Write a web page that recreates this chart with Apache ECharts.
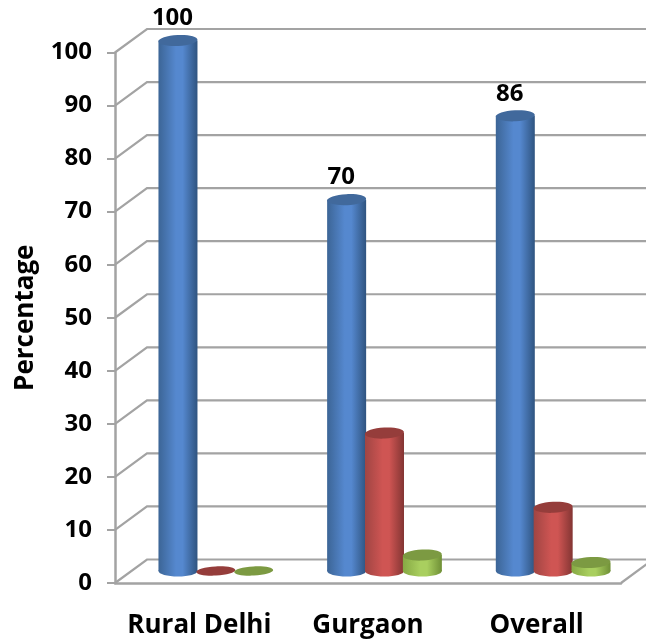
<!DOCTYPE html>
<html>
<head>
<meta charset="utf-8">
<style>html,body{margin:0;padding:0;background:#fff}#c{width:646px;height:641px}</style>
<script src="https://cdn.jsdelivr.net/npm/echarts@6/dist/echarts.min.js"></script>
</head>
<body>
<div id="c"></div>
<script>
const categories = ['Rural Delhi', 'Gurgaon', 'Overall'];
const tickValues = [0, 10, 20, 30, 40, 50, 60, 70, 80, 90, 100];
const seriesA = [100, 70, 85.8];
const seriesB = [0, 26, 12];
const seriesC = [0, 3, 1.6];

const FONT = '"Open Sans"';
const DEPTH_X = 32, DEPTH_Y = 23.5;        // back wall offset
const BAR_DX = 16.5, BAR_DY = 12;          // cylinder plane offset
const RX = 19.5, RY = 5.5;
const BAR_STEP = 0.2245;                   // fraction of a band

const palettes = [
  {edgeL:'#3c6596', mid:'#5588cf', edgeR:'#2f5480', top:'#41699c'},
  {edgeL:'#a04543', mid:'#cf5553', edgeR:'#833533', top:'#953d3b'},
  {edgeL:'#86a844', mid:'#a9cf5f', edgeR:'#6f8f36', top:'#7c9a42'}
];

const chart = echarts.init(document.getElementById('c'));

function cylinder(seriesIndex, showLabel) {
  const pal = palettes[seriesIndex];
  return function (params, api) {
    const catIdx = api.value(0), val = api.value(1);
    const band = api.size([1, 0])[0];
    const base = api.coord([catIdx, 0]);
    const top = api.coord([catIdx, val]);
    const cx = base[0] + BAR_DX + (seriesIndex - 1) * BAR_STEP * band;
    const yb = base[1] - BAR_DY, yt = top[1] - BAR_DY;
    const grad = new echarts.graphic.LinearGradient(0, 0, 1, 0, [
      {offset: 0, color: pal.edgeL},
      {offset: 0.45, color: pal.mid},
      {offset: 0.62, color: pal.mid},
      {offset: 1, color: pal.edgeR}
    ]);
    const children = [];
    if (val > 0) {
      children.push({type: 'ellipse', shape: {cx: cx, cy: yb, rx: RX, ry: RY}, style: {fill: grad}});
      children.push({type: 'rect', shape: {x: cx - RX, y: yt, width: RX * 2, height: yb - yt}, style: {fill: grad}});
    }
    children.push({
      type: 'ellipse',
      shape: {cx: cx, cy: yt, rx: RX, ry: val > 0 ? RY : 4.6},
      rotation: 0.05, originX: cx, originY: yt,
      style: {fill: pal.top}
    });
    if (showLabel) {
      children.push({
        type: 'text',
        style: {
          x: cx - 5.5, y: yt - 22,
          text: Math.round(val).toString(),
          fill: '#000',
          font: 'bold 24px ' + FONT,
          textAlign: 'center', textVerticalAlign: 'middle'
        }
      });
    }
    return {type: 'group', children: children};
  };
}

function wallRender(params, api) {
  const v = api.value(1);
  const band = api.size([1, 0])[0];
  const first = api.coord([0, v]);
  const leftX = first[0] - band / 2;
  const rightX = leftX + band * categories.length;
  return {
    type: 'polyline',
    shape: {points: [[leftX, first[1]], [leftX + DEPTH_X, first[1] - DEPTH_Y], [rightX + DEPTH_X, first[1] - DEPTH_Y]]},
    style: {stroke: '#a3a3a3', lineWidth: 2.2, fill: null}
  };
}

function floorEdge(params, api) {
  const band = api.size([1, 0])[0];
  const last = api.coord([categories.length - 1, 0]);
  const r = last[0] + band / 2;
  return {
    type: 'line',
    shape: {x1: r, y1: last[1], x2: r + DEPTH_X, y2: last[1] - DEPTH_Y},
    style: {stroke: '#a3a3a3', lineWidth: 2.2}
  };
}

const toData = arr => arr.map((v, i) => [i, v]);

chart.setOption({
  animation: false,
  backgroundColor: '#fff',
  grid: {left: 115, right: 25, top: 52.5, bottom: 58, containLabel: false, outerBoundsMode: 'none'},
  xAxis: {
    type: 'category',
    data: categories,
    axisLine: {show: true, lineStyle: {color: '#a3a3a3', width: 2.5}},
    axisTick: {show: false},
    axisLabel: {color: '#000', fontFamily: FONT, fontWeight: 'bold', fontSize: 26, margin: 30, interval: 0}
  },
  yAxis: {
    type: 'value', min: 0, max: 100, interval: 10,
    name: 'Percentage',
    nameLocation: 'middle',
    nameRotate: 90,
    nameGap: 76,
    nameTextStyle: {color: '#000', fontFamily: FONT, fontWeight: 'bold', fontSize: 26},
    axisLine: {show: true, lineStyle: {color: '#a3a3a3', width: 2.5}},
    axisTick: {show: true, length: 8, lineStyle: {color: '#a3a3a3', width: 2}},
    axisLabel: {color: '#000', fontFamily: FONT, fontWeight: 'bold', fontSize: 24, margin: 23, padding: [6, 0, 0, 0],
      formatter: v => String(v)},
    splitLine: {show: false}
  },
  series: [
    {type: 'custom', name: 'wall', coordinateSystem: 'cartesian2d', clip: false, silent: true, z: 1,
     data: tickValues.map(v => [0, v]), encode: {x: 0, y: 1}, renderItem: wallRender},
    {type: 'custom', name: 'floor', coordinateSystem: 'cartesian2d', clip: false, silent: true, z: 1,
     data: [[0, 0]], encode: {x: 0, y: 1}, renderItem: floorEdge},
    {type: 'custom', name: 'A', coordinateSystem: 'cartesian2d', clip: false, z: 2,
     data: toData(seriesA), encode: {x: 0, y: 1}, renderItem: cylinder(0, true)},
    {type: 'custom', name: 'B', coordinateSystem: 'cartesian2d', clip: false, z: 3,
     data: toData(seriesB), encode: {x: 0, y: 1}, renderItem: cylinder(1, false)},
    {type: 'custom', name: 'C', coordinateSystem: 'cartesian2d', clip: false, z: 4,
     data: toData(seriesC), encode: {x: 0, y: 1}, renderItem: cylinder(2, false)}
  ]
});
</script>
</body>
</html>
